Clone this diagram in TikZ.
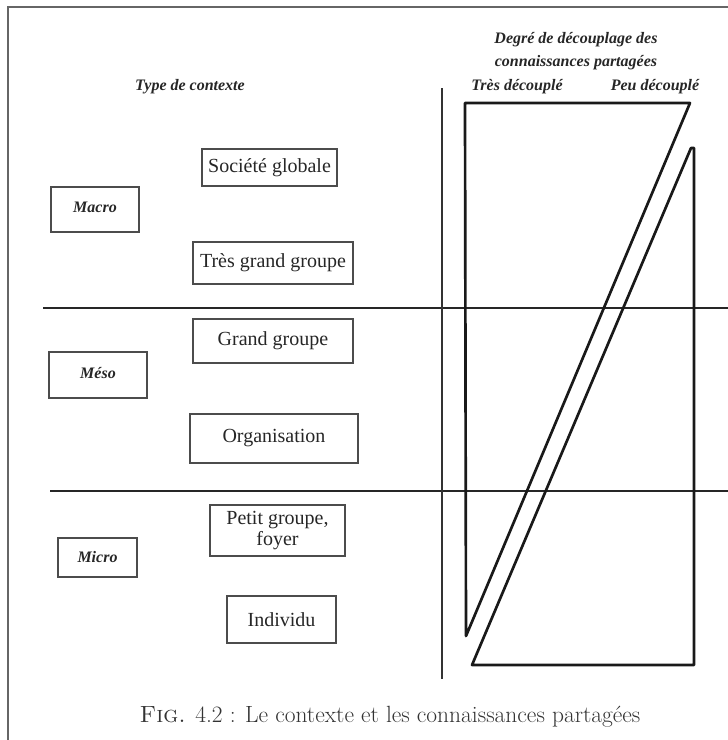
\documentclass[tikz,border=0pt]{standalone}
\usepackage{fontspec}
\newfontfamily\timesf{Liberation Serif}
\begin{document}
\begin{tikzpicture}[x=0.75pt,y=-0.75pt,
  sz/.style 2 args={minimum width=#1*0.75pt,minimum height=#2*0.75pt},
  box/.style={draw=black!70,line width=0.9pt,inner sep=0pt,align=center,
    font=\timesf\fontsize{15}{16.5}\selectfont,text=black!85},
  lvlbox/.style={draw=black!70,line width=0.9pt,inner sep=0pt,
    font=\timesf\fontsize{12}{13}\selectfont\bfseries\itshape,text=black!85},
  head/.style={inner sep=0pt,align=center,
    font=\timesf\fontsize{12}{17}\selectfont\bfseries\itshape,text=black!85},
  thickline/.style={line width=1.8pt,black!85},
  bigline/.style={line width=2pt,black!90,line join=round,line cap=round}]
\useasboundingbox (0,0) rectangle (728,740);
% frame
\draw[black!60,line width=0.8pt] (8,740) -- (8,7) -- (728,7);
% headers
\node[head] (type) at (190,87) {Type de contexte};
\node[head] (degre) at (576,51) {Degré de découplage des\\connaissances partagées};
\node[head] (tres) at (517,87) {Très découplé};
\node[head] (peu) at (655,87) {Peu découplé};
% level boxes
\node[lvlbox,sz={88}{45}] (macro) at (95,209.5) {\raisebox{3pt}{Macro}};
\node[lvlbox,sz={98}{46}] (meso) at (98,375) {\raisebox{3pt}{Méso}};
\node[lvlbox,sz={79}{39}] (micro) at (97.5,557.5) {\raisebox{1.5pt}{Micro}};
% context boxes
\node[box,sz={135}{37}] (soc) at (269.5,167.5) {Société globale};
\node[box,sz={160}{42}] (tgg) at (273,263) {Très grand groupe};
\node[box,sz={160}{44}] (gg) at (273,341) {Grand groupe};
\node[box,sz={168}{49}] (org) at (274,438.5) {Organisation};
\node[box,sz={135}{51}] (pg) at (277.5,530.5) {Petit groupe,\\[-1pt]foyer};
\node[box,sz={109}{47}] (ind) at (281.5,619.5) {Individu};
% separators
\coordinate (h1a) at (43,308); \coordinate (h1b) at (728,308);
\coordinate (h2a) at (50,491); \coordinate (h2b) at (728,491);
\draw[thickline] (h1a) -- (h1b);
\draw[thickline] (h2a) -- (h2b);
\coordinate (va) at (442,88); \coordinate (vb) at (442,679);
\draw[black!80,line width=1pt] (va) -- (vb);
% shapes
\coordinate (s1a) at (466,636); \coordinate (s1b) at (465,103);
\coordinate (s1c) at (690,103);
\draw[bigline] (s1a) -- (s1b) -- (s1c) -- cycle;
\coordinate (s2a) at (691,148); \coordinate (s2b) at (694,148);
\coordinate (s2c) at (694,665); \coordinate (s2d) at (472,665);
\draw[bigline] (s2a) -- (s2b) -- (s2c) -- (s2d) -- cycle;
% caption
\node[inner sep=0pt,font=\fontsize{17.6}{19}\selectfont,text=black!80] (cap) at (390,717)
  {\textsc{Fig.} 4.2 : Le contexte et les connaissances partagées};
\end{tikzpicture}
\end{document}
